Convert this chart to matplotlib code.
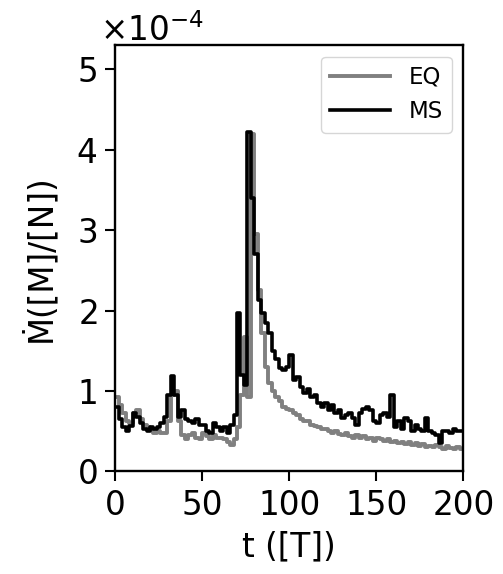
import matplotlib
matplotlib.use("Agg")
import matplotlib.pyplot as plt
import numpy as np
from matplotlib.ticker import ScalarFormatter

# bin starts (t), width 2
t_edges = list(range(0, 202, 2))

# mass-loss rate, units of 1e-4
eq_rate = [
    0.92, 0.82, 0.72, 0.62, 0.60, 0.72, 0.76, 0.65, 0.58, 0.55,
    0.52, 0.48, 0.50, 0.47, 0.48, 0.62, 0.95, 1.00, 0.62, 0.45,
    0.40, 0.45, 0.48, 0.42, 0.40, 0.48, 0.44, 0.40, 0.45, 0.42,
    0.42, 0.40, 0.36, 0.33, 0.40, 0.55, 0.95, 1.67, 0.92, 4.20,
    2.95, 2.25, 1.72, 1.30, 1.10, 1.00, 0.92, 0.88, 0.80, 0.78,
    0.76, 0.72, 0.70, 0.65, 0.62, 0.62, 0.58, 0.56, 0.55, 0.52,
    0.52, 0.50, 0.48, 0.50, 0.46, 0.45, 0.47, 0.44, 0.42, 0.45,
    0.42, 0.44, 0.40, 0.42, 0.38, 0.42, 0.40, 0.38, 0.40, 0.36,
    0.38, 0.35, 0.37, 0.34, 0.36, 0.33, 0.35, 0.32, 0.34, 0.30,
    0.32, 0.30, 0.33, 0.30, 0.28, 0.31, 0.29, 0.28, 0.30, 0.28,
]
ms_rate = [
    0.80, 0.65, 0.55, 0.50, 0.56, 0.72, 0.68, 0.60, 0.52, 0.50,
    0.55, 0.52, 0.55, 0.60, 0.68, 0.95, 1.18, 0.95, 0.67, 0.76,
    0.65, 0.62, 0.60, 0.65, 0.57, 0.58, 0.50, 0.47, 0.60, 0.55,
    0.50, 0.55, 0.48, 0.58, 0.70, 1.97, 1.20, 1.07, 4.22, 3.40,
    2.70, 2.13, 1.97, 1.85, 1.72, 1.50, 1.40, 1.28, 1.26, 1.30,
    1.45, 1.13, 1.17, 1.05, 0.97, 1.02, 0.92, 0.95, 0.85, 0.80,
    0.85, 0.76, 0.82, 0.72, 0.76, 0.66, 0.70, 0.72, 0.66, 0.58,
    0.72, 0.78, 0.80, 0.76, 0.62, 0.60, 0.70, 0.72, 0.68, 0.95,
    0.55, 0.62, 0.52, 0.66, 0.62, 0.50, 0.58, 0.52, 0.50, 0.66,
    0.50, 0.48, 0.45, 0.35, 0.50, 0.50, 0.48, 0.52, 0.50, 0.50,
]

plt.rcParams.update({"font.size": 23.5})

fig = plt.figure(figsize=(5.03, 5.74), dpi=100)
ax = fig.add_axes([0.229, 0.179, 0.692, 0.742])

eq = np.array(eq_rate + [eq_rate[-1]]) * 1e-4
ms = np.array(ms_rate + [ms_rate[-1]]) * 1e-4
ax.step(t_edges, eq, where="post", color="#808080", lw=2.8, label="EQ")
ax.step(t_edges, ms, where="post", color="black", lw=2.6, label="MS")

ax.set_xlim(0, 200)
ax.set_ylim(0, 5.3e-4)
ax.set_xticks([0, 50, 100, 150, 200])
ax.set_yticks(np.arange(0, 6) * 1e-4)
fmt = ScalarFormatter(useMathText=True)
fmt.set_powerlimits((0, 0))
ax.yaxis.set_major_formatter(fmt)
ax.yaxis.get_offset_text().set_x(-0.045)
for s in ax.spines.values():
    s.set_linewidth(1.7)
ax.tick_params(width=1.5, length=7, pad=6)

ax.set_xlabel("t ([T])", labelpad=6)
ax.set_ylabel("Ṁ([M]/[N])", labelpad=14)
ax.legend(loc="upper right", fontsize=16.5, handlelength=2.6)

fig.savefig("out.png", dpi=100)
